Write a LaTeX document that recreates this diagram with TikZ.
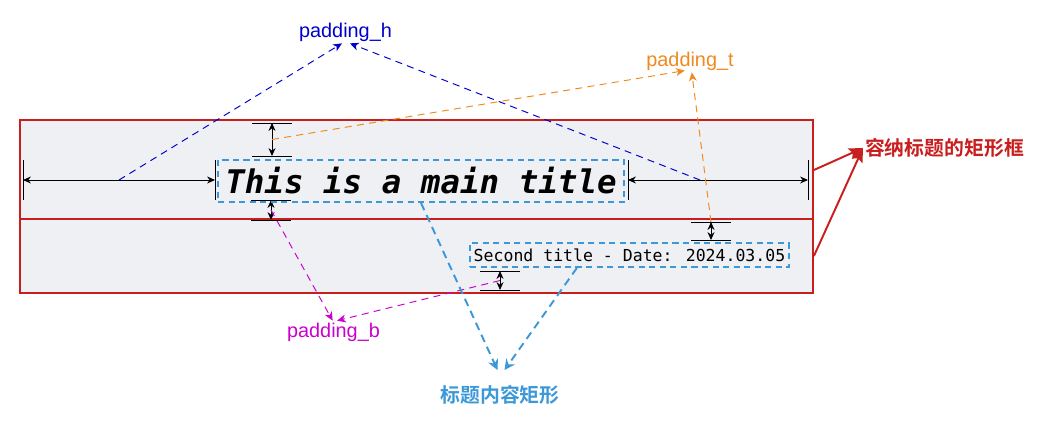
\documentclass[tikz,border=0pt]{standalone}
\usepackage{fontspec}
\setmainfont{Liberation Sans}
\newfontfamily\cjk{Noto Sans CJK SC}[BoldFont = {Noto Sans CJK SC Bold}]
\newfontfamily\monofont{DejaVu Sans Mono}
\usepackage{tikz}
\usetikzlibrary{arrows.meta, calc}

\definecolor{boxred}{HTML}{C81E1E}
\definecolor{boxfill}{HTML}{EFF0F4}
\definecolor{titleblue}{HTML}{3D98D8}
\definecolor{hblue}{HTML}{0000CC}
\definecolor{torange}{HTML}{F0891E}
\definecolor{bmagenta}{HTML}{CC00CC}

\begin{document}
\begin{tikzpicture}[x = 0.02cm, y = -0.02cm,
    dimline/.style = {line width = 0.55pt, {Stealth[length = 4.5pt, width = 4pt]}-{Stealth[length = 4.5pt, width = 4pt]}},
    tickline/.style = {line width = 0.45pt},
    pointer/.style = {line width = 0.55pt, dash pattern = on 4pt off 3pt, -{Stealth[length = 5pt, width = 4.5pt, inset = 1.5pt]}},
    boxpointer/.style = {titleblue, line width = 1.1pt, dash pattern = on 4.5pt off 3pt, -{Stealth[length = 6pt, width = 6pt, inset = 2pt]}},
    redpointer/.style = {boxred, line width = 1.1pt, -{Stealth[length = 8pt, width = 6.5pt, inset = 1.5pt]}},
    frame/.style = {draw = boxred, fill = boxfill, line width = 1.1pt, minimum width = 15.86cm},
    titlebox/.style = {draw = titleblue, line width = 1.1pt, dash pattern = on 3.5pt off 2.5pt, inner sep = 0pt},
    tag/.style = {font = \fontsize{11.3}{13}\selectfont, inner sep = 1pt},
    cjktag/.style = {font = \cjk\bfseries\fontsize{11.3}{13}\selectfont, inner sep = 1pt}
]
    \useasboundingbox (0, 0) rectangle (1040, 420);
    \node [frame, minimum height = 2cm] (upper) at (416.5, 170) {};
    \node [frame, minimum height = 1.48cm] (lower) at (416.5, 256) {};

    \foreach \a/\b [count = \n] in {23/215, 628/808} {
        \draw [tickline] (\a, 160) -- (\a, 200) (\b, 160) -- (\b, 200);
        \coordinate (hl\n) at (\a, 180);
        \coordinate (hr\n) at (\b, 180);
        \draw [dimline] (hl\n) -- (hr\n);
    }
    \foreach \x/\a/\b [count = \n] in {272/123/156, 271/200/220, 711/222/240, 500/271/290} {
        \draw [tickline] (\x - 20, \a) -- (\x + 20, \a) (\x - 20, \b) -- (\x + 20, \b);
        \coordinate (vt\n) at (\x, \a);
        \coordinate (vb\n) at (\x, \b);
        \draw [dimline] (vt\n) -- (vb\n);
    }

    \node [titlebox, minimum width = 8.12cm, minimum height = 0.84cm] (main) at (421, 181) {\monofont\bfseries\itshape\fontsize{18.5}{20}\selectfont This is a main title};
    \node [titlebox, minimum width = 6.38cm, minimum height = 0.48cm] (second) at (629.5, 255) {\monofont\fontsize{9.4}{11}\selectfont Second title - Date: 2024.03.05};

    \node [tag, text = hblue] (padh) at (345.5, 32) {padding\_h};
    \node [tag, text = torange] (padt) at (690, 61) {padding\_t};
    \node [tag, text = bmagenta] (padb) at (333.5, 332) {padding\_b};
    \node [cjktag, text = boxred, anchor = west] (frametag) at (863, 148) {容纳标题的矩形框};
    \node [cjktag, text = titleblue] (titletag) at (500, 395) {标题内容矩形};
    \coordinate (titletip) at (501, 370);

    \draw [pointer, hblue] ($(hl1)!0.5!(hr1)$) -- ([xshift = -2pt] padh.south);
    \draw [pointer, hblue] ($(hl2)!0.4!(hr2)$) -- ([xshift = 2.5pt] padh.south);
    \draw [pointer, torange] ($(vt1)!0.5!(vb1)$) -- ([xshift = -3pt, yshift = 1pt] padt.south);
    \draw [pointer, torange] (vt3) -- ([xshift = 1pt] padt.south);
    \draw [pointer, bmagenta] ($(vt2)!0.5!(vb2)$) -- ([xshift = -0.5pt] padb.north);
    \draw [pointer, bmagenta] ($(vt4)!0.5!(vb4)$) -- ([xshift = 2pt] padb.north);
    \draw [boxpointer] (main.south) -- ([xshift = -2pt] titletip);
    \draw [boxpointer] ($(second.south west)!0.336!(second.south east)$) -- ([xshift = 2pt] titletip);
    \draw [redpointer] (upper.east) -- (frametag.west);
    \draw [redpointer] (lower.east) -- (frametag.west);
\end{tikzpicture}
\end{document}
